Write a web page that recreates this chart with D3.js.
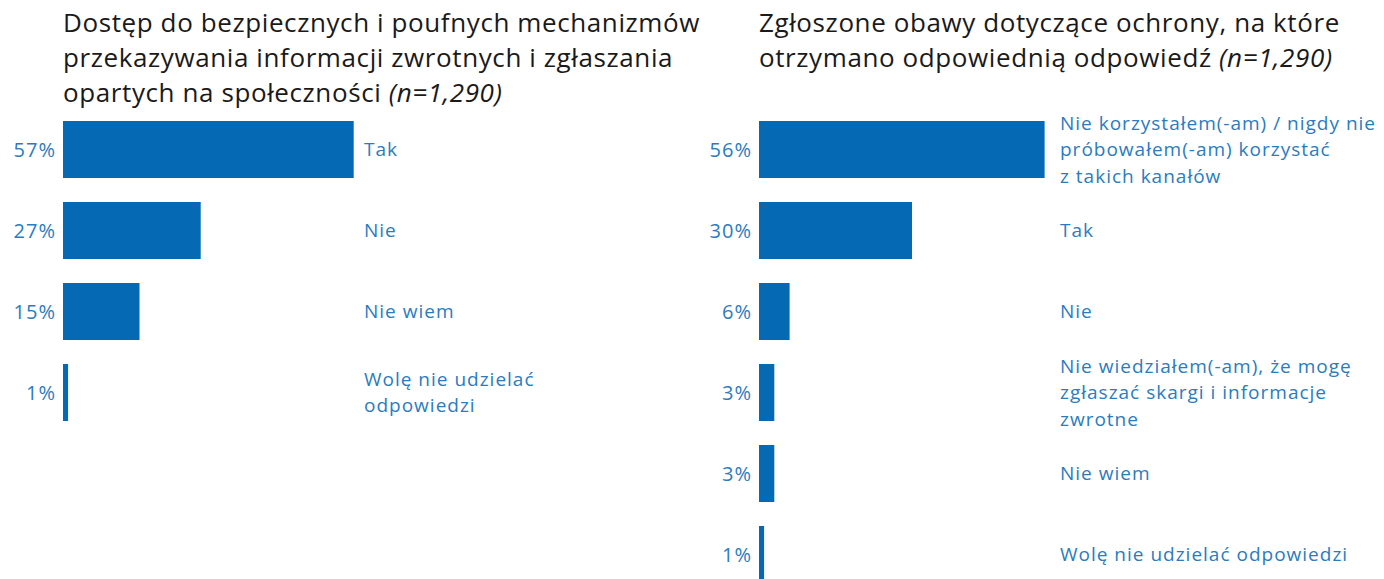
<!DOCTYPE html>
<html>
<head>
<meta charset="utf-8">
<script src="https://cdn.jsdelivr.net/npm/d3@7"></script>
<style>
  body { margin: 0; background: #fff; }
  svg { font-family: "Open Sans", "Noto Sans", sans-serif; }
</style>
</head>
<body>
<script>
// data
var leftCategories = ["Tak", "Nie", "Nie wiem", "Wolę nie udzielać|odpowiedzi"];
var leftValues = [57, 27, 15, 1];
var leftTitle = ["Dostęp do bezpiecznych i poufnych mechanizmów", "przekazywania informacji zwrotnych i zgłaszania", "opartych na społeczności"];

var rightCategories = ["Nie korzystałem(-am) / nigdy nie|próbowałem(-am) korzystać|z takich kanałów", "Tak", "Nie", "Nie wiedziałem(-am), że mogę|zgłaszać skargi i informacje|zwrotne", "Nie wiem", "Wolę nie udzielać odpowiedzi"];
var rightValues = [56, 30, 6, 3, 3, 1];
var rightTitle = ["Zgłoszone obawy dotyczące ochrony, na które", "otrzymano odpowiednią odpowiedź"];

var sampleNote = "(n=1,290)";

var svgWidth = 1384, svgHeight = 579;
var barColor = "#0569b3";
var textBlue = "#2a7cc0";

var svg = d3.select("body")
    .append("svg")
    .attr("width", svgWidth)
    .attr("height", svgHeight);

// same scale on both panels: ~5.1px per percent
var x = d3.scaleLinear().domain([0, 100]).range([0, 510]);

function drawPanel(left, titleLines, cats, vals, labelX) {
    var g = svg.append("g");

    // title
    var title = g.append("text")
        .attr("x", left)
        .attr("y", 32)
        .attr("fill", "#1a1a1a")
        .attr("font-size", 26)
        .attr("letter-spacing", 0.6);
    titleLines.forEach(function(line, i) {
        title.append("tspan")
            .attr("x", left)
            .attr("dy", i == 0 ? 0 : 35)
            .text(line);
        if (i == titleLines.length - 1) {
            title.append("tspan")
                .attr("font-style", "italic")
                .text(" " + sampleNote);
        }
    });

    var n = cats.length;
    var y = d3.scaleBand()
        .domain(cats)
        .range([121, 121 + 81 * n - 24])
        .paddingInner(24 / 81)
        .paddingOuter(0);

    var data = cats.map(function(c, i) { return {cat: c, val: vals[i]}; });

    g.selectAll("rect")
        .data(data)
        .enter()
        .append("rect")
        .attr("x", left)
        .attr("y", function(d) { return y(d.cat); })
        .attr("width", function(d) { return x(d.val); })
        .attr("height", y.bandwidth())
        .attr("fill", barColor);

    // percent labels
    g.selectAll("text.pct")
        .data(data)
        .enter()
        .append("text")
        .attr("class", "pct")
        .attr("x", left - 7)
        .attr("y", function(d) { return y(d.cat) + y.bandwidth() / 2; })
        .attr("dy", "0.35em")
        .attr("text-anchor", "end")
        .attr("font-size", 20)
        .attr("letter-spacing", 1)
        .attr("fill", textBlue)
        .text(function(d) { return d.val + "%"; });

    // category labels
    var lineH = 26.5;
    g.selectAll("text.cat")
        .data(data)
        .enter()
        .append("text")
        .attr("class", "cat")
        .attr("font-size", 19)
        .attr("letter-spacing", 1)
        .attr("fill", textBlue)
        .each(function(d) {
            var lines = d.cat.split("|");
            var cy = y(d.cat) + y.bandwidth() / 2;
            var start = cy - (lines.length - 1) * lineH / 2;
            var t = d3.select(this);
            lines.forEach(function(l, i) {
                t.append("tspan")
                    .attr("x", labelX)
                    .attr("y", start + i * lineH)
                    .attr("dy", "0.35em")
                    .text(l);
            });
        });
}

drawPanel(63, leftTitle, leftCategories, leftValues, 364);
drawPanel(759, rightTitle, rightCategories, rightValues, 1060);
</script>
</body>
</html>
